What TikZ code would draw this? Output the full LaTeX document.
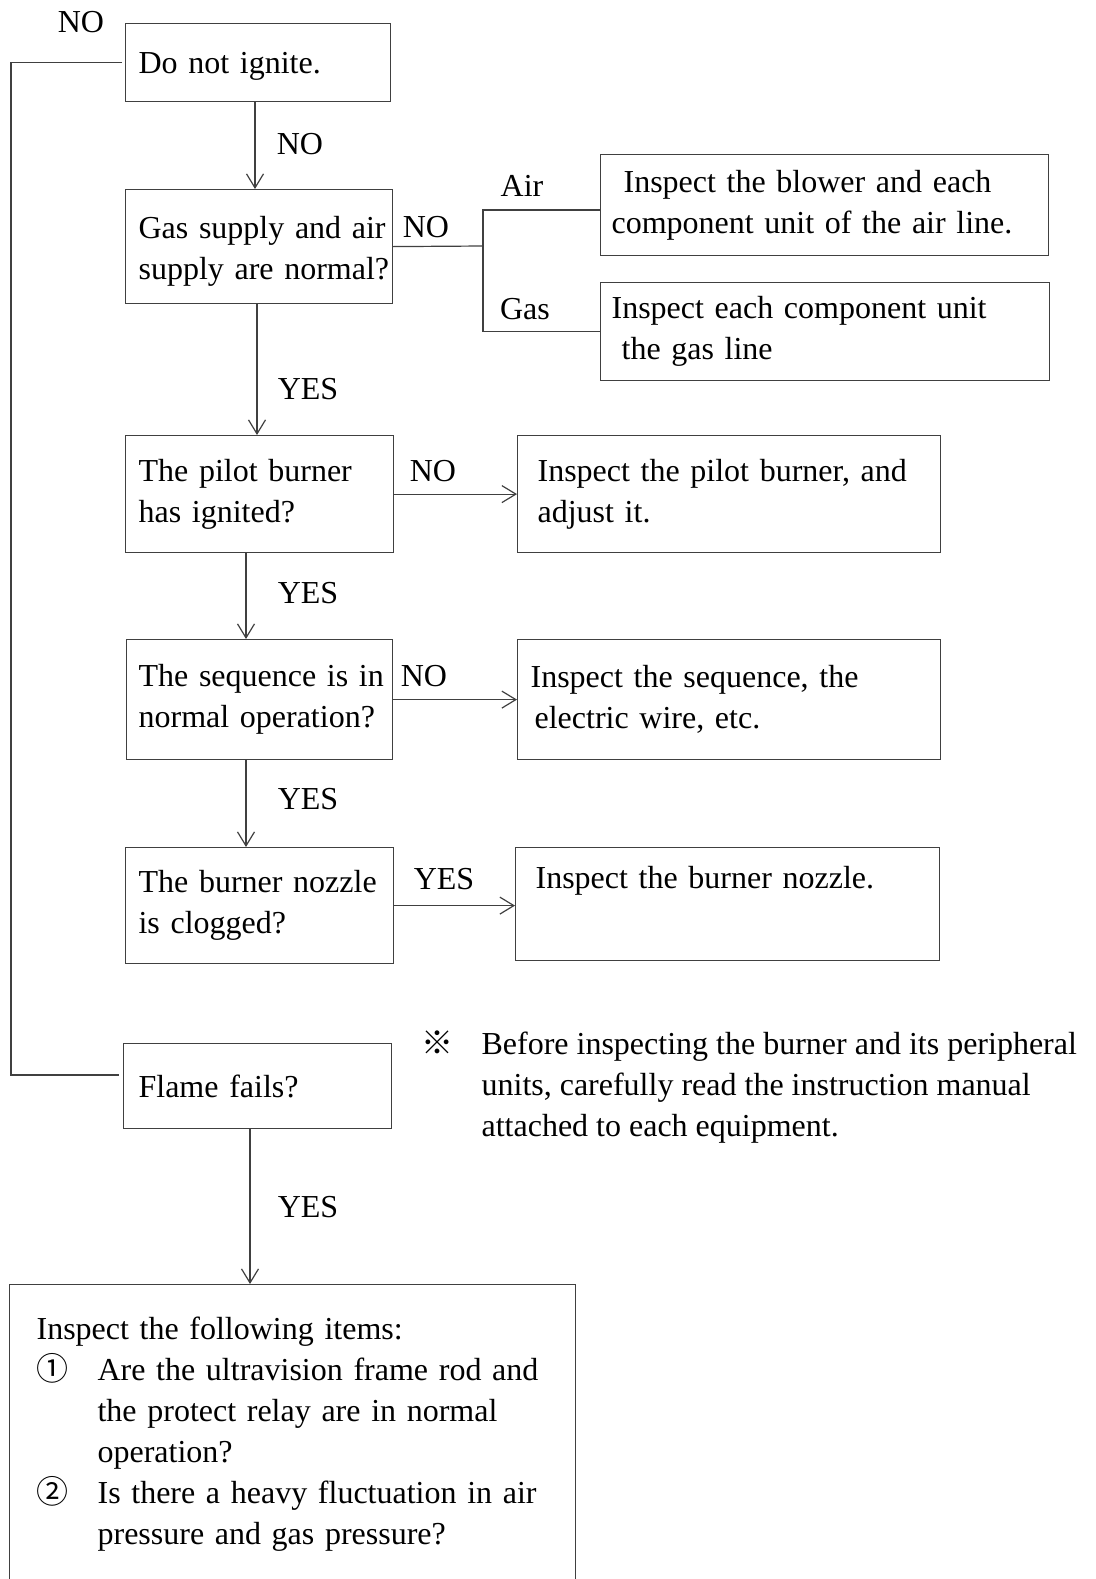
\documentclass[tikz,border=0pt]{standalone}
\usepackage{fontspec}
\setmainfont{Liberation Serif}
\newfontfamily\cjk{Noto Sans CJK JP}
\usetikzlibrary{arrows.meta}
\tikzset{
  every node/.style={font=\fontsize{16pt}{20.5pt}\selectfont},
  box/.style n args={3}{draw, anchor=north west, inner xsep=0pt, inner ysep=0pt,
    align=left, text width=#1, minimum height=#2,
    execute at begin node={\setlength{\leftskip}{#3}}},
  lbl/.style={inner sep=0pt},
  arr/.style={-{Straight Barb[length=7pt,width=8.5pt]}},
}
\begin{document}
\begin{tikzpicture}[x=0.5pt,y=-0.5pt,line width=0.6pt,draw=black!75]
\useasboundingbox (0,0) rectangle (1096,1579);
\clip (0,0) rectangle (1096,1579);
%main column
\node[box={132.5pt}{39pt}{6.5pt}, text depth=0pt] (ign) at (125,23) {Do not ignite.};
\node[box={133.5pt}{57pt}{6.5pt}, text depth=19pt] (gas) at (125,189) {Gas supply and air\\supply are normal?};
\node[box={134pt}{58.5pt}{6.5pt}] (pilot) at (125,435) {The pilot burner\\has ignited?};
\node[box={133pt}{60pt}{6pt}] (seq) at (126,639) {The sequence is in\\normal operation?};
\node[box={134pt}{58pt}{6.5pt}] (nozzle) at (125,847) {The burner nozzle\\is clogged?};
\node[box={134pt}{42.5pt}{7.5pt}] (flame) at (123,1043) {Flame fails?};
%checks
\node[box={224pt}{50.5pt}{5.5pt}] (airchk) at (600,154) {\hspace*{6pt}Inspect the blower and each\\component unit of the air line.};
\node[box={224.5pt}{49pt}{5.5pt}] (gaschk) at (600,282) {Inspect each component unit\\\hspace*{5pt}the gas line};
\node[box={211.5pt}{58.5pt}{10pt}] (pilotchk) at (517,435) {Inspect the pilot burner, and\\adjust it.};
\node[box={211.5pt}{60pt}{6.5pt}] (seqchk) at (517,639) {Inspect the sequence, the\\\hspace*{2pt}electric wire, etc.};
\node[box={212pt}{56.5pt}{10pt}] (nozchk) at (515,847) {Inspect the burner nozzle.\\\strut};
\node[box={283pt}{150pt}{13.5pt}] (chklist) at (9,1284) {Inspect the following items:\\
  \makebox[30.5pt][l]{\cjk ①}Are the ultravision frame rod and\\
  \hspace*{30.5pt}the protect relay are in normal\\
  \hspace*{30.5pt}operation?\\
  \makebox[30.5pt][l]{\cjk ②}Is there a heavy fluctuation in air\\
  \hspace*{30.5pt}pressure and gas pressure?};
%note
\node[lbl, anchor=west, align=left] (note) at (421,1087) {\makebox[30pt][l]{\cjk ※}Before inspecting the burner and its peripheral\\
  \hspace*{30pt}units, carefully read the instruction manual\\
  \hspace*{30pt}attached to each equipment.};
%labels
\node[lbl] (no0) at (81,22) {NO};
\node[lbl] (no1) at (300,144) {NO};
\node[lbl] (no2) at (426,227) {NO};
\node[lbl] (airl) at (522,186) {Air};
\node[lbl] (gasl) at (525,309) {Gas};
\node[lbl] (yes1) at (308,389) {YES};
\node[lbl] (no3) at (433,471) {NO};
\node[lbl] (yes2) at (308,593) {YES};
\node[lbl] (no4) at (424,676) {NO};
\node[lbl] (yes3) at (308,799) {YES};
\node[lbl] (yes4) at (444,879) {YES};
\node[lbl] (yes5) at (308,1207) {YES};
%arrows down
\draw[arr] (ign.south -| 255,0) -- (gas.north -| 255,0);
\draw[arr] (gas.south -| 257,0) -- (pilot.north -| 257,0);
\draw[arr] (pilot.south -| 246,0) -- (seq.north -| 246,0);
\draw[arr] (seq.south -| 246,0) -- (nozzle.north -| 246,0);
\draw[arr] (flame.south -| 250,0) -- (chklist.north -| 250,0);
%arrows right
\draw[arr] (pilot.east) -- (pilot.east -| pilotchk.west);
\draw[arr] (seq.east) -- (seq.east -| seqchk.west);
\draw[arr] (nozzle.east) -- (nozzle.east -| nozchk.west);
%air / gas split
\coordinate (split) at (483,246);
\draw (gas.east) -- (split);
\draw (airchk.west |- 0,210) -| (split) |- (gaschk.west);
%loop back
\coordinate (loop) at (11,1075);
\draw[shorten <=1.5pt, shorten >=2pt] (ign.west) -| (loop) -- (flame.west |- loop);
\end{tikzpicture}
\end{document}
